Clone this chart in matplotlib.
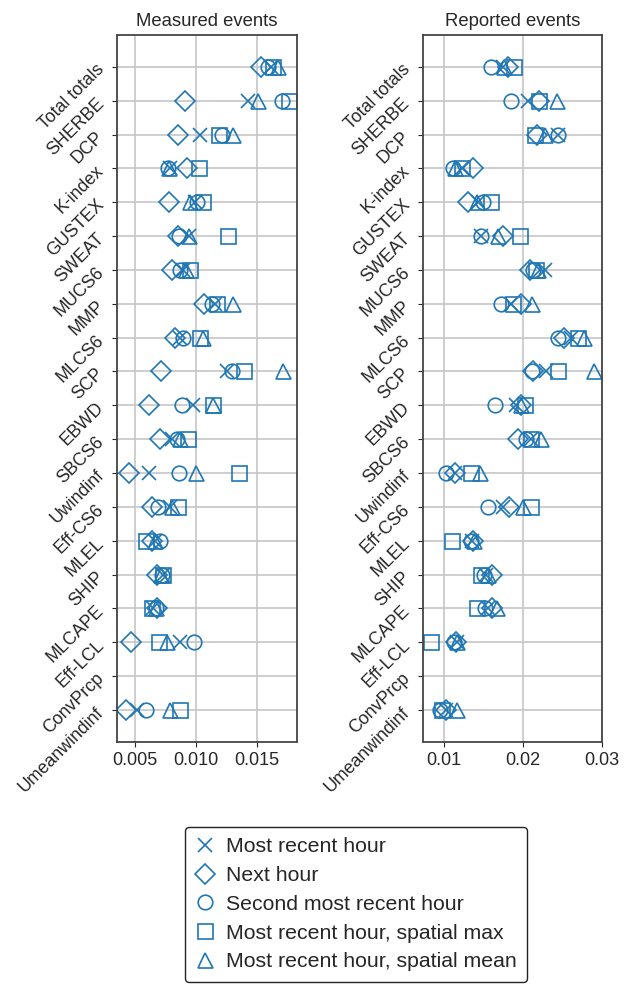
import numpy as np
import matplotlib.pyplot as plt
from matplotlib.lines import Line2D

plt.rcParams['font.family'] = ['Liberation Sans', 'DejaVu Sans']
plt.rcParams['text.color'] = '#262626'
plt.rcParams['xtick.color'] = '#262626'
plt.rcParams['ytick.color'] = '#262626'

features = ["Total totals", "SHERBE", "DCP", "K-index", "GUSTEX", "SWEAT",
            "MUCS6", "MMP", "MLCS6", "SCP", "EBWD", "SBCS6", "Uwindinf",
            "Eff-CS6", "MLEL", "SHIP", "MLCAPE", "Eff-LCL", "ConvPrcp",
            "Umeanwindinf"]

nan = np.nan

# Measured events
meas_recent = [0.01611, 0.01421, 0.01031, 0.00786, 0.00990, 0.00944, 0.00890, 0.01154,
               0.00868, 0.01249, 0.00977, 0.00800, 0.00617, 0.00785, 0.00663, 0.00730,
               0.00650, 0.00868, nan, 0.00514]
meas_next = [0.01529, 0.00911, 0.00854, 0.00922, 0.00780, 0.00854, 0.00800, 0.01066,
             0.00827, 0.00710, 0.00617, 0.00704, 0.00451, 0.00636, 0.00636, 0.00677,
             0.00682, 0.00467, nan, 0.00427]
meas_second = [0.01589, 0.01698, 0.01208, 0.00772, 0.01004, 0.00862, 0.00868, 0.01127,
               0.00890, 0.01290, 0.00881, 0.00840, 0.00860, 0.00690, 0.00704, 0.00718,
               0.00672, 0.00985, nan, 0.00590]
meas_max = [0.01630, 0.01761, 0.01189, 0.01023, 0.01058, 0.01263, 0.00949, 0.01167,
            0.01031, 0.01390, 0.01140, 0.00935, 0.01352, 0.00854, 0.00590, 0.00726,
            0.00636, 0.00699, nan, 0.00868]
meas_mean = [0.01671, 0.01508, 0.01303, 0.00780, 0.00949, 0.00944, 0.00917, 0.01298,
             0.01058, 0.01712, 0.01140, 0.00868, 0.00998, 0.00800, 0.00663, 0.00710,
             0.00672, 0.00759, nan, 0.00786]

# Reported events
rep_recent = [0.01752, 0.02068, 0.02448, 0.01230, 0.01430, 0.01465, 0.02288, 0.01849,
              0.02618, 0.02301, 0.01921, 0.02111, 0.01139, 0.01752, 0.01350, 0.01530,
              0.01562, 0.01160, nan, 0.01030]
rep_next = [0.01807, 0.02204, 0.02187, 0.01371, 0.01308, 0.01752, 0.02090, 0.01984,
            0.02520, 0.02132, 0.01976, 0.01942, 0.01139, 0.01828, 0.01370, 0.01604,
            0.01604, 0.01148, nan, 0.01020]
rep_second = [0.01596, 0.01857, 0.02448, 0.01118, 0.01498, 0.01465, 0.02132, 0.01722,
              0.02448, 0.02119, 0.01646, 0.02047, 0.01025, 0.01553, 0.01342, 0.01511,
              0.01519, 0.01130, nan, 0.00949]
rep_max = [0.01891, 0.02204, 0.02153, 0.01224, 0.01596, 0.01963, 0.02174, 0.01878,
           0.02702, 0.02448, 0.02026, 0.02111, 0.01342, 0.02102, 0.01105, 0.01469,
           0.01414, 0.00835, nan, 0.00970]
rep_mean = [0.01760, 0.02441, 0.02288, 0.01139, 0.01414, 0.01688, 0.02190, 0.02119,
            0.02778, 0.02904, 0.01980, 0.02229, 0.01456, 0.02005, 0.01384, 0.01560,
            0.01668, 0.01160, nan, 0.01161]

labels = ["Most recent hour", "Next hour", "Second most recent hour",
          "Most recent hour, spatial max", "Most recent hour, spatial mean"]
markers = ["x", "D", "o", "s", "^"]
sizes = [10.5, 10.2, 10.5, 10.8, 10.8]
color = "#1f77b4"

fig = plt.figure(figsize=(6.33, 9.89), dpi=100)
ax1 = fig.add_axes([0.1853, 0.2497, 0.2834, 0.7152])
ax2 = fig.add_axes([0.6687, 0.2497, 0.2828, 0.7152])

y = np.arange(len(features))


def draw(ax, series, title, xlim, xticks):
    for vals, m, ms in zip(series, markers, sizes):
        ax.plot(vals, y, linestyle="none", marker=m, ms=ms, mfc="none",
                mec=color, mew=1.2)
    ax.set_yticks(y)
    ax.set_yticklabels(features, rotation=45, ha="right", va="center",
                       rotation_mode="anchor", fontsize=12.8)
    ax.tick_params(axis="y", pad=8)
    ax.set_ylim(len(features) - 1 + 0.95, -0.95)
    ax.set_xlim(*xlim)
    ax.set_xticks(xticks)
    ax.tick_params(axis="x", labelsize=13)
    ax.grid(True, color="#c6c6ca", linewidth=1.2)
    ax.set_axisbelow(True)
    for s in ax.spines.values():
        s.set_color("#444444")
        s.set_linewidth(1.3)
    ax.set_title(title, fontsize=13.3)


draw(ax1, [meas_recent, meas_next, meas_second, meas_max, meas_mean],
     "Measured events", (0.00355, 0.01822), [0.005, 0.010, 0.015])
draw(ax2, [rep_recent, rep_next, rep_second, rep_max, rep_mean],
     "Reported events", (0.00738, 0.0301), [0.01, 0.02, 0.03])

handles = [Line2D([], [], linestyle="none", marker=m, ms=ms,
                  mfc="none", mec=color, mew=1.2) for m, ms in zip(markers, sizes)]
fig.legend(handles, labels, loc="upper center", bbox_to_anchor=(0.5625, 0.1641),
           borderaxespad=0, fontsize=15.3, edgecolor="#222222", framealpha=1,
           handlelength=0.9, handletextpad=0.5, labelspacing=0.46, borderpad=0.5)

fig.savefig("out.png", dpi=100)
